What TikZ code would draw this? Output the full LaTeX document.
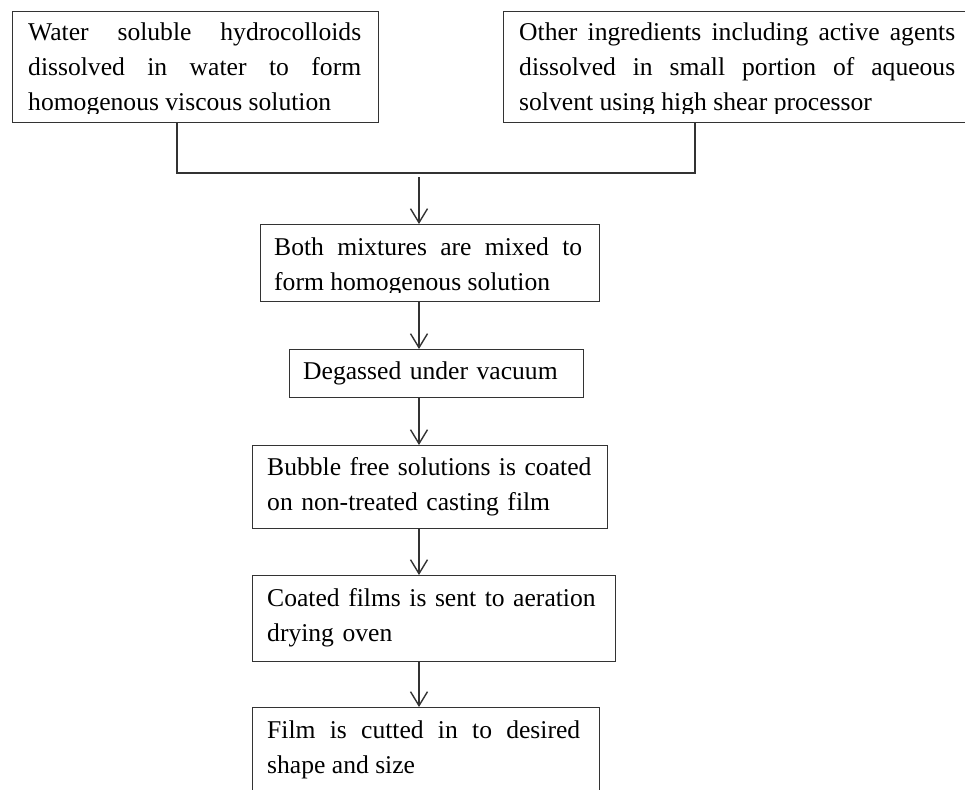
\documentclass[tikz,border=0pt]{standalone}
\usepackage{fontspec}
\setmainfont{Liberation Serif}
\usetikzlibrary{arrows.meta}
\definecolor{linec}{HTML}{333333}
\tikzset{
  box/.style={draw=linec, line width=1.3pt, rectangle, inner sep=0pt, anchor=north west},
  txt/.style={inner sep=0pt, anchor=north west, font=\fontsize{25.6}{35}\selectfont, text=black},
  jtxt/.style={txt, align=justify},
  ltxt/.style={txt, align=left},
  conn/.style={draw=linec, line width=1.1pt},
  arr/.style={conn, -{Straight Barb[length=14pt,width=17pt,line width=1.4pt]}}
}
\begin{document}
\begin{tikzpicture}[x=1pt,y=-1pt]
\clip (0,0) rectangle (965,789);
\fill[white] (0,0) rectangle (965,789);
\tolerance=9999 \emergencystretch=20pt \hyphenpenalty=10000

% boxes
\node[box, minimum width=366pt, minimum height=111pt] (b1) at (12,11) {};
\node[box, minimum width=480pt, minimum height=111pt] (b2) at (503,11) {};
\node[box, minimum width=339pt, minimum height=77pt] (b3) at (260,224) {};
\node[box, minimum width=294pt, minimum height=48pt] (b4) at (289,349) {};
\node[box, minimum width=355pt, minimum height=83pt] (b5) at (252,445) {};
\node[box, minimum width=363pt, minimum height=86pt] (b6) at (252,575) {};
\node[box, minimum width=347pt, minimum height=120pt] (b7) at (252,707) {};

% texts (clipped slightly inside boxes)
\begin{scope}
\clip ([yshift=10pt]b1.south west) rectangle (b1.north east);
\node[jtxt, text width=333pt] (t1) at (28,16.2) {\strut Water soluble hydrocolloids\linebreak dissolved in water to form\linebreak homogenous viscous solution};
\end{scope}
\begin{scope}
\clip ([yshift=10pt]b2.south west) rectangle (b2.north east);
\node[jtxt, text width=436pt] (t2) at (519,16.2) {\strut Other ingredients including active agents\linebreak dissolved in small portion of aqueous\linebreak solvent using high shear processor};
\end{scope}
\begin{scope}
\clip ([yshift=10pt]b3.south west) rectangle (b3.north east);
\node[jtxt, text width=308pt] (t3) at (274,230.5) {\strut Both mixtures are mixed to\linebreak form homogenous solution};
\end{scope}
\node[ltxt, text width=270pt] (t4) at (303,354.5) {\strut Degassed under vacuum};
\node[ltxt, text width=330pt] (t5) at (267,450.5) {\strut Bubble free solutions is coated\\ on non-treated casting film};
\node[ltxt, text width=340pt] (t6) at (267,581.5) {\strut Coated films is sent to aeration\\ drying oven};
\node[jtxt, text width=313pt] (t7) at (267,713.5) {\strut Film is cutted in to desired\linebreak shape and size};

% connectors
\coordinate (c1) at (177,173);
\coordinate (c2) at (695,173);
\coordinate (j) at (419,177);
\coordinate (ax) at (419,0);
\draw[conn] (b1.south -| c1) -- (c1) -- (c2) -- (b2.south -| c2);
\draw[arr] (j) -- (j |- b3.north);
\draw[arr] (b3.south -| ax) -- (b4.north -| ax);
\draw[arr] (b4.south -| ax) -- (b5.north -| ax);
\draw[arr] (b5.south -| ax) -- (b6.north -| ax);
\draw[arr] (b6.south -| ax) -- (b7.north -| ax);
\end{tikzpicture}
\end{document}
